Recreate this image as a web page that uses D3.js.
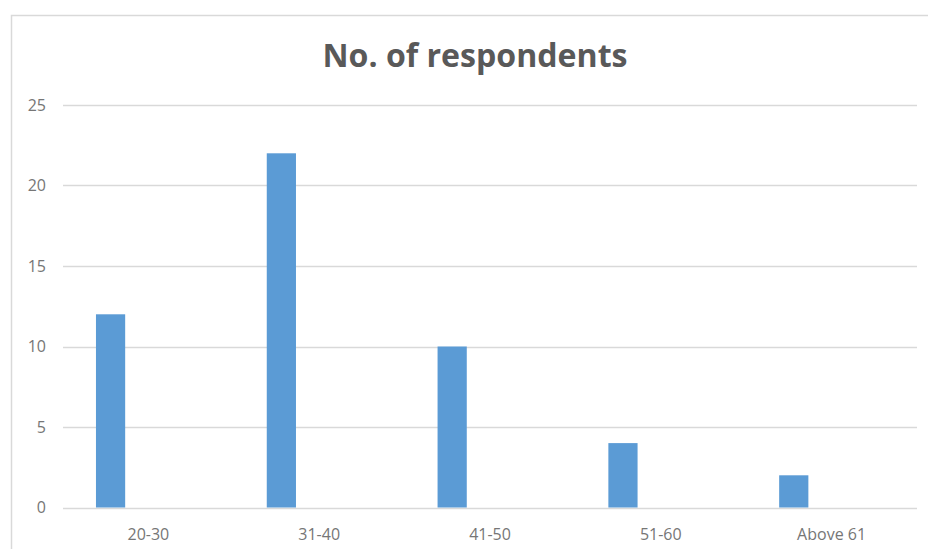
<!DOCTYPE html>
<html>
<head>
<meta charset="utf-8">
<script src="https://cdn.jsdelivr.net/npm/d3@7/dist/d3.min.js"></script>
<style>
  html, body { margin: 0; padding: 0; background: #fff; }
  svg { display: block; }
</style>
</head>
<body>
<div id="chart"></div>
<script>
// Age groups and number of respondents in each
const categories = ["20-30", "31-40", "41-50", "51-60", "Above 61"];
const respondents = [12, 22, 10, 4, 2];
const yTicks = [0, 5, 10, 15, 20, 25];
const chartTitle = "No. of respondents";

const width = 928, height = 549;
const plot = { left: 63, right: 917, top: 105, bottom: 507.5 };

const svg = d3.select("#chart").append("svg")
  .attr("width", width)
  .attr("height", height);

// chart frame
svg.append("path")
  .attr("d", `M11.5,${height} V15.5 H${width}`)
  .attr("fill", "none")
  .attr("stroke", "#d9d9d9")
  .attr("stroke-width", 1.5);

const x = d3.scaleBand()
  .domain(categories)
  .range([plot.left, plot.right])
  .paddingInner(0)
  .paddingOuter(0);

const y = d3.scaleLinear()
  .domain([0, 25])
  .range([plot.bottom, plot.top]);

// horizontal gridlines
svg.append("g")
  .selectAll("line")
  .data(yTicks)
  .join("line")
  .attr("x1", plot.left)
  .attr("x2", plot.right)
  .attr("y1", d => Math.round(y(d)) + 0.5)
  .attr("y2", d => Math.round(y(d)) + 0.5)
  .attr("stroke", "#d9d9d9")
  .attr("stroke-width", 1.5);

// y axis labels
const yAxis = d3.axisLeft(y).tickValues(yTicks).tickSize(0).tickPadding(0);
svg.append("g")
  .attr("transform", `translate(46,0)`)
  .call(yAxis)
  .call(g => g.select(".domain").remove())
  .call(g => g.selectAll("text")
    .attr("fill", "#767676")
    .style("font-family", "'Open Sans', sans-serif")
    .style("font-size", "16px"));

// bars sit in the left part of each category slot
const barOffset = x.bandwidth() * 0.193;
const barWidth = x.bandwidth() * 0.171;
svg.append("g")
  .selectAll("rect")
  .data(categories.map((c, i) => ({ c, v: respondents[i] })))
  .join("rect")
  .attr("x", d => x(d.c) + barOffset)
  .attr("width", barWidth)
  .attr("y", d => y(d.v))
  .attr("height", d => y(0) - y(d.v))
  .attr("fill", "#5b9bd5");

// category labels
const xAxis = d3.axisBottom(x).tickSize(0).tickPadding(0);
svg.append("g")
  .attr("transform", `translate(0,${plot.bottom})`)
  .call(xAxis)
  .call(g => g.select(".domain").remove())
  .call(g => g.selectAll("text")
    .attr("dy", null)
    .attr("y", 32)
    .attr("fill", "#767676")
    .style("font-family", "'Open Sans', sans-serif")
    .style("font-size", "16px"));

// title
svg.append("text")
  .attr("x", 475)
  .attr("y", 67)
  .attr("text-anchor", "middle")
  .attr("fill", "#595959")
  .attr("textLength", 305)
  .attr("lengthAdjust", "spacingAndGlyphs")
  .style("font-family", "'Open Sans', sans-serif")
  .style("font-weight", "bold")
  .style("font-size", "32px")
  .text(chartTitle);
</script>
</body>
</html>
